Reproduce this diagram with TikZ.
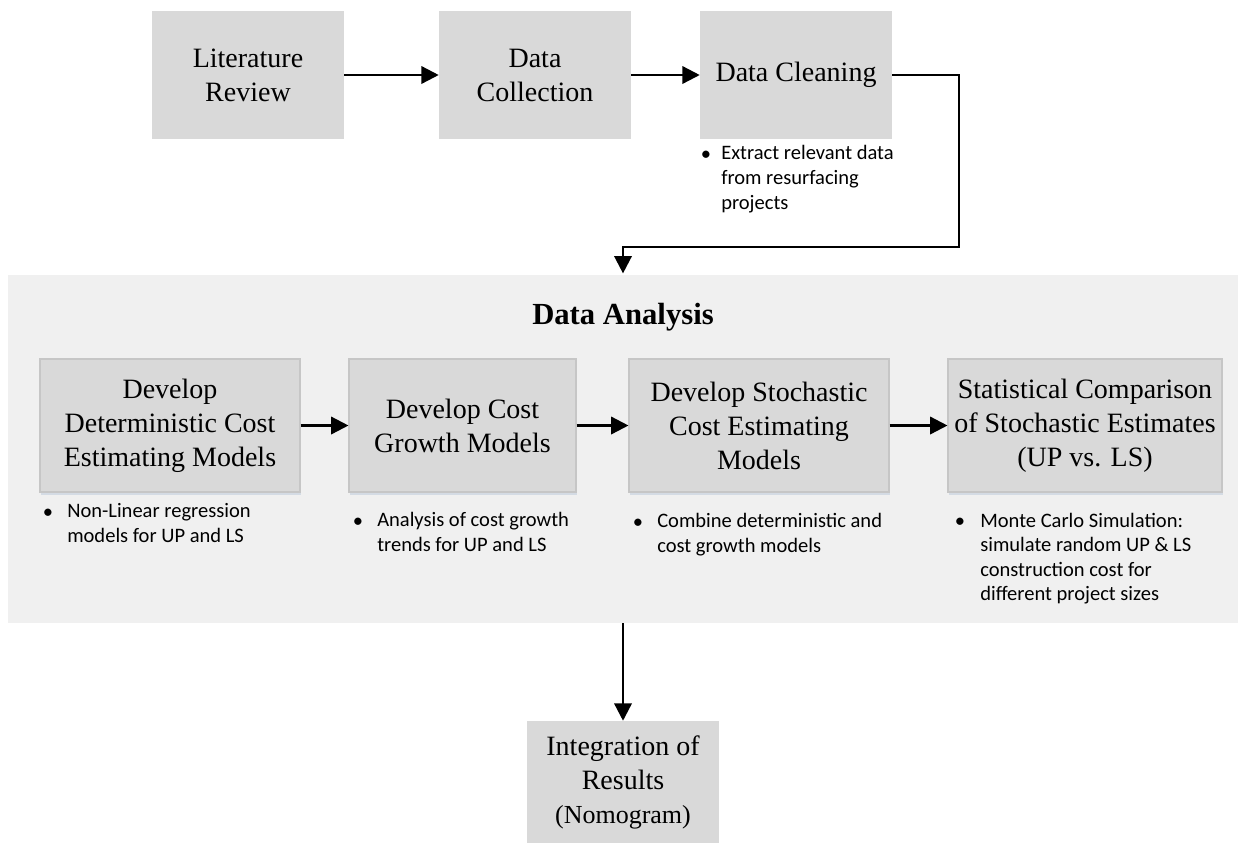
\documentclass[tikz,border=0pt]{standalone}
\usepackage{fontspec}
\setmainfont{Liberation Serif}
\newfontfamily\calfont{Carlito}
\usetikzlibrary{arrows.meta,shadows}
\definecolor{boxgray}{HTML}{D9D9D9}
\definecolor{panelgray}{HTML}{F0F0F0}
\definecolor{edgegray}{HTML}{C6C6C6}
\definecolor{shadowblue}{HTML}{CDD6E2}
\begin{document}
\begin{tikzpicture}[x=0.75pt,y=-0.75pt,
  box/.style={fill=boxgray, inner sep=0pt, align=center, font=\fontsize{21pt}{25.5pt}\selectfont},
  abox/.style={box, draw=edgegray, line width=0.8pt, minimum height=133*0.75pt,
     drop shadow={shadow xshift=0.8pt, shadow yshift=-2.2pt, fill=shadowblue, opacity=0.8}},
  topbox/.style={box, minimum width=192*0.75pt, minimum height=128*0.75pt},
  arr/.style={line width=1.8pt, -{Triangle[length=13pt,width=13pt]}},
  bul/.style={anchor=base, inner sep=0pt, font=\calfont\fontsize{15.4pt}{18.4pt}\selectfont},
  btext/.style={anchor=base west, inner sep=0pt, align=left, font=\calfont\fontsize{15.4pt}{18.4pt}\selectfont},
  ]
\useasboundingbox (0,0) rectangle (1238,844);
\fill[white] (0,0) rectangle (1238,844);

% top row
\node[topbox] (lit) at (248,75) {Literature\\Review};
\node[topbox] (coll) at (535,75) {Data\\Collection};
\node[topbox] (clean) at (796,75) {Data Cleaning};
% multi-line text nodes: base anchor = baseline of last line
\node[bul] (bc) at (706,160) {\textbullet};
\node[btext] (tc) at (721,209) {Extract relevant data\\from resurfacing\\projects};

% panel
\node[fill=panelgray, minimum width=1230*0.75pt, minimum height=348*0.75pt, inner sep=0pt] (panel) at (623,449) {};
\node[anchor=base, inner sep=0pt, font=\bfseries\fontsize{23pt}{27pt}\selectfont] (title) at (623,324) {Data Analysis};

\node[abox, minimum width=260*0.75pt] (d1) at (170,425.5) {Develop\\Deterministic Cost\\Estimating Models};
\node[abox, minimum width=227*0.75pt] (d2) at (462.5,425.5) {Develop Cost\\Growth Models};
\node[abox, minimum width=260*0.75pt] (d3) at (759,425.5) {Develop Stochastic\\Cost Estimating\\Models};
\node[abox, minimum width=274*0.75pt] (d4) at (1085,425.5) {Statistical Comparison\\of Stochastic Estimates\\(UP vs. LS)};

\node[bul] (b1) at (48,518) {\textbullet};
\node[btext] (t1) at (67,542.5) {Non-Linear regression\\models for UP and LS};
\node[bul] (b2) at (358,527) {\textbullet};
\node[btext] (t2) at (377,551.5) {Analysis of cost growth\\trends for UP and LS};
\node[bul] (b3) at (638,528) {\textbullet};
\node[btext] (t3) at (657,552.5) {Combine deterministic and\\cost growth models};
\node[bul] (b4) at (960,527) {\textbullet};
\node[btext] (t4) at (980,600.6) {Monte Carlo Simulation:\\simulate random UP \& LS\\construction cost for\\different project sizes};

% bottom
\node[box, minimum width=192*0.75pt, minimum height=122*0.75pt] (integ) at (623,782)
  {Integration of\\Results\\{\fontsize{19.5pt}{25.5pt}\selectfont(Nomogram)}};

% connectors
\draw[arr] (lit) -- (coll);
\draw[arr] (coll) -- (clean);
\coordinate (turn) at (959,247);
\draw[arr, shorten >=1pt] (clean.east) -| (turn) -| (panel.north);
\draw[arr] (d1) -- (d2);
\draw[arr] (d2) -- (d3);
\draw[arr] (d3) -- (d4);
\draw[arr] (panel.south) -- (integ.north);
\end{tikzpicture}
\end{document}
